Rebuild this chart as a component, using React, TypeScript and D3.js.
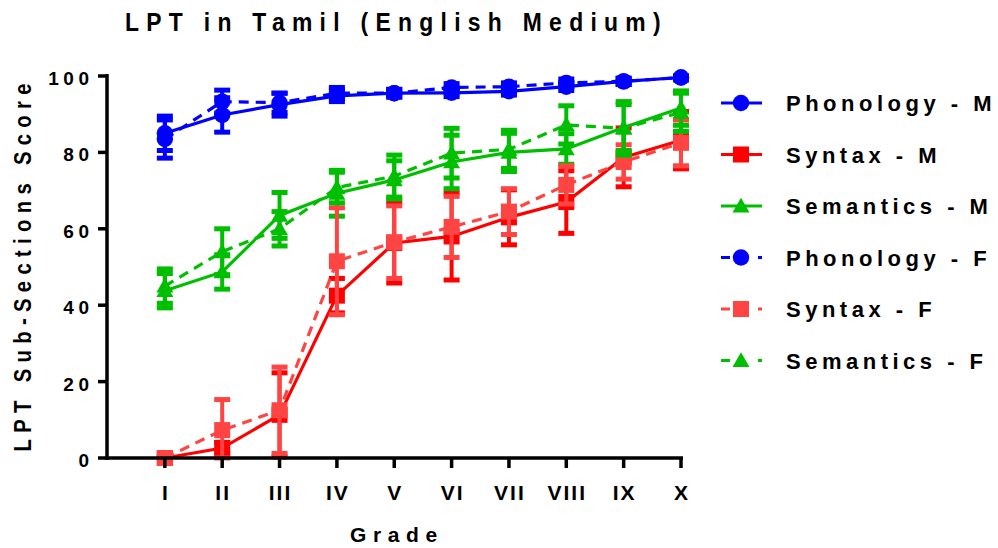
import React from "react";
import * as d3 from "d3";

const grades = ["I", "II", "III", "IV", "V", "VI", "VII", "VIII", "IX", "X"];
const yTicks = [0, 20, 40, 60, 80, 100];

const phonM = [85, 89.8, 92.5, 94.8, 95.5, 95.6, 96, 97.2, 98.6, 99.6];
const phonMErr = [4.5, 4.5, 3, 1.5, 1, 1, 1, 1, 0.8, 0.6];
const phonF = [83.5, 93.3, 93, 95.5, 95.5, 97, 97.2, 98.2, 98.6, 99.6];
const phonFErr = [5, 3, 2.5, 1.5, 1, 1, 1, 1, 0.8, 0.6];
const synM = [0, 2.6, 11.3, 42.5, 56.3, 58, 63, 67, 78.7, 83.2];
const synMErr = [0.5, 1.5, 11, 4.5, 10.5, 11.4, 7.2, 8.2, 7.7, 7.5];
const synF = [0, 7.3, 12.5, 51.5, 56.5, 60.5, 64.5, 71.5, 77.5, 82.5];
const synFErr = [0.5, 8, 11.3, 14, 9.5, 8, 6, 5, 4.5, 6];
const semM = [43.8, 48.7, 63.5, 69.3, 72.8, 77.5, 80, 80.9, 86.5, 91.6];
const semMErr = [4.5, 4.5, 6, 6, 5, 7, 5, 4, 6, 4.5];
const semF = [45, 54, 60, 70.8, 73.8, 79.8, 80.8, 87.2, 86.3, 90.5];
const semFErr = [4.5, 6, 4.5, 4, 5.5, 6.5, 5, 5, 7, 5];

type Series = { name: string; values: number[]; err: number[]; color: string; dashed: boolean; shape: "circle" | "square" | "triangle" };

const series: Series[] = [
  { name: "Phonology - M", values: phonM, err: phonMErr, color: "#0000ff", dashed: false, shape: "circle" },
  { name: "Syntax - M", values: synM, err: synMErr, color: "#ff0000", dashed: false, shape: "square" },
  { name: "Semantics - M", values: semM, err: semMErr, color: "#00bf00", dashed: false, shape: "triangle" },
  { name: "Phonology - F", values: phonF, err: phonFErr, color: "#0000ff", dashed: true, shape: "circle" },
  { name: "Syntax - F", values: synF, err: synFErr, color: "#ff4444", dashed: true, shape: "square" },
  { name: "Semantics - F", values: semF, err: semFErr, color: "#00bf00", dashed: true, shape: "triangle" },
];

const FONT = "'Liberation Sans', Arial, sans-serif";

function Marker({ shape, x, y, color }: { shape: string; x: number; y: number; color: string }) {
  if (shape === "circle") return <circle cx={x} cy={y} r={8.2} fill={color} />;
  if (shape === "square") return <rect x={x - 8} y={y - 8} width={16} height={16} fill={color} />;
  const sym = d3.symbol().type(d3.symbolTriangle).size(125)();
  return <path d={sym || ""} transform={`translate(${x},${y + 1.5})`} fill={color} />;
}

export default function App() {
  const x = d3.scaleLinear().domain([0, 10]).range([107.5, 681]);
  const y = d3.scaleLinear().domain([0, 100]).range([458, 76]);
  const line = d3
    .line<number>()
    .x((_, i) => x(i + 1))
    .y((d) => y(d));

  const legendY = (i: number) => 103 + i * 51.5;

  return (
    <svg width={998} height={548} style={{ position: "absolute", left: 0, top: 0, background: "#fff" }} fontFamily={FONT}>
      {/* title */}
      <g transform="translate(125,31) scale(0.88,1)">
        <text x={0} y={0} fontSize={26} fontWeight="bold" letterSpacing={8.3}>
          LPT in Tamil (English Medium)
        </text>
      </g>

      {/* series */}
      {series.map((s) => (
        <g key={s.name}>
          {s.values.map((v, i) => {
            const cx = x(i + 1);
            const top = y(Math.min(100, v + s.err[i]));
            const bot = y(Math.max(0, v - s.err[i]));
            return (
              <g key={i}>
                <line x1={cx} x2={cx} y1={top} y2={bot} stroke={s.color} strokeWidth={4} />
                <line x1={cx - 8} x2={cx + 8} y1={top} y2={top} stroke={s.color} strokeWidth={5} />
                <line x1={cx - 8} x2={cx + 8} y1={bot} y2={bot} stroke={s.color} strokeWidth={5} />
              </g>
            );
          })}
          <path d={line(s.values) || ""} fill="none" stroke={s.color} strokeWidth={3.2} strokeDasharray={s.dashed ? "10,7" : undefined} />
          {s.values.map((v, i) => (
            <Marker key={i} shape={s.shape} x={x(i + 1)} y={y(v)} color={s.color} />
          ))}
        </g>
      ))}

      {/* axes */}
      <line x1={107} x2={107} y1={74} y2={460} stroke="#000" strokeWidth={3.5} />
      <line x1={105} x2={683} y1={458} y2={458} stroke="#000" strokeWidth={3.5} />
      {yTicks.map((t) => (
        <g key={t}>
          <line x1={98} x2={107} y1={y(t)} y2={y(t)} stroke="#000" strokeWidth={3.5} />
          <text x={93.5} y={y(t) + 9} textAnchor="end" fontSize={19} fontWeight="bold" letterSpacing={4.5}>
            {t}
          </text>
        </g>
      ))}
      {grades.map((g, i) => (
        <g key={g}>
          <line x1={x(i + 1)} x2={x(i + 1)} y1={458} y2={468} stroke="#000" strokeWidth={3.5} />
          <text x={x(i + 1) + 1} y={500} textAnchor="middle" fontSize={21} fontWeight="bold" letterSpacing={2}>
            {g}
          </text>
        </g>
      ))}

      {/* axis titles */}
      <text x={350} y={542} fontSize={21} fontWeight="bold" letterSpacing={6.6}>
        Grade
      </text>
      <g transform="translate(31,267.5) rotate(-90) scale(0.88,1)">
        <text x={3.6} y={0} textAnchor="middle" fontSize={23} fontWeight="bold" letterSpacing={7.2}>
          LPT Sub-Sections Score
        </text>
      </g>

      {/* legend */}
      {series.map((s, i) => (
        <g key={s.name}>
          <line x1={721} x2={762} y1={legendY(i)} y2={legendY(i)} stroke={s.color} strokeWidth={3.2} strokeDasharray={s.dashed ? "9,28,4" : undefined} />
          <Marker shape={s.shape} x={741} y={legendY(i)} color={s.color} />
          <text x={786} y={legendY(i) + 8} fontSize={22} fontWeight="bold" letterSpacing={4.5}>
            {s.name}
          </text>
        </g>
      ))}
    </svg>
  );
}
